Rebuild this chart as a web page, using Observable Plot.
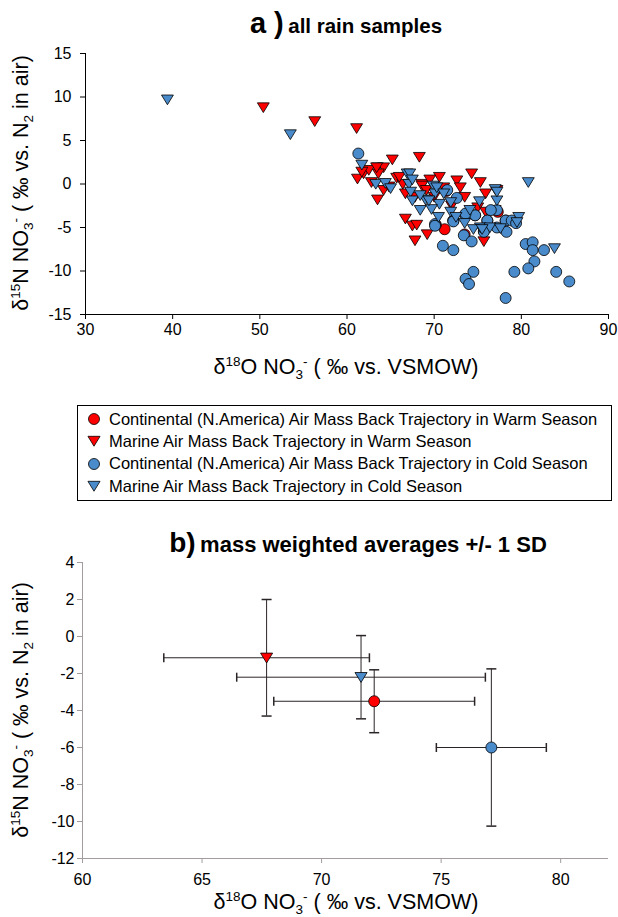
<!DOCTYPE html>
<html><head><meta charset="utf-8">
<script src="https://cdn.jsdelivr.net/npm/d3@7"></script>
<script src="https://cdn.jsdelivr.net/npm/@observablehq/plot@0.6"></script>
<style>
body{margin:0;background:#fff;font-family:"Liberation Sans",Arial,Helvetica,sans-serif;color:#000;}
#wrap{position:relative;width:618px;height:917px;overflow:hidden;background:#fff;}
.abs{position:absolute;white-space:nowrap;line-height:1;}
.lbl{font-size:21.5px;}
.lbl sup,.lbl sub{font-size:13.5px;}
.lbl sup{vertical-align:8px;}
.lbl sub{vertical-align:-5px;}
.title{font-weight:bold;}
#legend{position:absolute;left:77px;top:405px;width:535px;height:96px;border:1px solid #000;box-sizing:border-box;}
.lrow{position:absolute;left:31px;font-size:16.5px;line-height:1;white-space:nowrap;}
</style></head><body><div id="wrap">
<div id="panelA" class="abs" style="left:0;top:0"></div>
<div id="panelB" class="abs" style="left:0;top:520px"></div>
<div class="abs title" style="left:346px;top:9px;transform:translateX(-50%)"><span style="font-size:29px">a )</span> <span style="font-size:20.5px">all rain samples</span></div>
<div class="abs lbl" style="left:346px;top:355px;transform:translateX(-50%)">&delta;<sup>18</sup>O NO<sub>3</sub><sup>-</sup> ( &permil; vs. VSMOW)</div>
<div class="abs lbl" style="left:22px;top:183px;transform:translate(-50%,-50%) rotate(-90deg)">&delta;<sup>15</sup>N NO<sub>3</sub><sup>-</sup> ( &permil; vs. N<sub>2</sub> in air)</div>
<div id="legend"></div>
<div class="abs title" style="left:358px;top:529px;transform:translateX(-50%)"><span style="font-size:28px">b)</span> <span style="font-size:22px">mass weighted averages +/- 1 SD</span></div>
<div class="abs lbl" style="left:346px;top:890px;transform:translateX(-50%)">&delta;<sup>18</sup>O NO<sub>3</sub><sup>-</sup> ( &permil; vs. VSMOW)</div>
<div class="abs lbl" style="left:22px;top:710px;transform:translate(-50%,-50%) rotate(-90deg)">&delta;<sup>15</sup>N NO<sub>3</sub><sup>-</sup> ( &permil; vs. N<sub>2</sub> in air)</div>
</div>
<script>
// ---------- DATA ----------
const seriesNames = [
  "Continental (N.America) Air Mass Back Trajectory in Warm Season",
  "Marine Air Mass Back Trajectory in Warm Season",
  "Continental (N.America) Air Mass Back Trajectory in Cold Season",
  "Marine Air Mass Back Trajectory in Cold Season"
];
// [d18O, d15N]
const contWarm = [[73.6,-3.5],[74.7,-3.6],[71.2,-5.2],[72.2,-4.2],[73.5,-5.8],[76.1,-4.2],[78.2,-4.2],[77.3,-3.2],[75.7,-5.4],[70.2,-4.7],[71.4,-0.8]];
const marWarm = [[50.4,8.8],[56.3,7.2],[61.1,6.4],[68.3,3.1],[65.2,2.8],[61.2,0.6],[61.9,1.2],[62.5,1.6],[63.5,1.9],[64.2,1.9],[63.6,1.2],[65.7,0.7],[63.5,-1.8],[64.2,-0.7],[66.4,0.0],[66.7,-1.1],[68.6,0.0],[68.6,-0.2],[67.8,-1.5],[69.1,-0.7],[70.6,0.8],[71.1,-0.4],[72.6,0.4],[73.0,-0.4],[74.3,1.2],[75.3,0.2],[75.9,-1.1],[77.2,-0.7],[75.0,-2.7],[77.0,-3.0],[75.9,-3.2],[75.7,-6.6],[66.7,-4.0],[67.5,-4.8],[68.0,-4.7],[69.2,-5.8],[67.8,-6.5],[62.8,0.2],[64.8,-0.3],[70.0,-1.5],[72.0,-2.5],[73.5,-1.5],[66.0,0.8],[69.5,0.5],[61.7,1.4],[63.4,1.9]];
const contCold = [[61.3,3.5],[71.5,-0.7],[72.6,-1.6],[77.2,-3.0],[70.1,-4.6],[72.2,-4.2],[73.6,-3.6],[74.7,-3.6],[76.1,-4.2],[77.2,-5.0],[78.2,-4.2],[78.9,-4.2],[73.6,-3.4],[72.2,-4.3],[73.4,-5.9],[74.3,-6.6],[75.7,-5.5],[71.0,-7.1],[72.2,-7.6],[80.5,-6.9],[81.3,-6.7],[81.3,-7.6],[82.6,-7.6],[81.5,-8.9],[80.8,-9.7],[79.2,-10.1],[84.0,-10.1],[85.5,-11.2],[74.5,-10.1],[73.6,-10.9],[74.0,-11.5],[78.2,-13.1],[78.3,-5.5],[79.4,-4.5],[76.5,-3.0],[70.1,-4.8]];
const marCold = [[39.4,9.7],[53.5,5.7],[61.7,2.2],[63.3,0.0],[64.4,0.1],[66.9,1.2],[67.1,0.0],[67.2,1.2],[67.5,0.5],[67.3,-0.9],[67.5,-1.9],[68.4,-3.0],[69.9,-0.2],[69.0,-1.8],[70.1,-1.1],[70.6,-2.3],[71.9,-2.1],[77.0,-0.6],[75.2,-2.0],[77.2,-1.9],[69.7,-2.9],[70.5,-3.8],[71.9,-3.2],[74.1,-3.0],[75.3,-5.0],[76.4,-5.0],[77.6,-5.1],[79.7,-3.8],[80.8,0.2],[83.8,-7.4],[68.4,-1.3],[69.4,-1.9],[70.3,-0.4],[71.1,-1.1],[74.5,-5.2],[75.5,-5.2],[79.5,-4.4],[72.5,-3.8],[73.5,-4.5],[65.0,-0.5],[77.2,-0.9]];

// panel b: mass weighted averages and 1 SD
const avgNames = ["contWarm","marWarm","contCold","marCold"];
const avgX  = [72.2, 67.7, 77.1, 71.65];
const avgY  = [-3.5, -1.15, -6.0, -2.2];
const sdX   = [4.2, 4.3, 2.3, 5.2];
const sdY   = [1.7, 3.15, 4.25, 2.25];

const xTicksA = [30,40,50,60,70,80,90];
const yTicksA = [-15,-10,-5,0,5,10,15];
const xTicksB = [60,65,70,75,80];
const yTicksB = [-12,-10,-8,-6,-4,-2,0,2,4];

// ---------- STYLE ----------
const RED = "#ff0000", BLUE = "#4a8bcb";
const styleOf = {contWarm:{fill:RED,sym:"circle"},marWarm:{fill:RED,sym:"tri"},contCold:{fill:BLUE,sym:"circle"},marCold:{fill:BLUE,sym:"tri"}};
const triDown = {draw(ctx,size){const r=Math.sqrt(size/Math.PI);ctx.moveTo(-1.1*r,-0.85*r);ctx.lineTo(1.1*r,-0.85*r);ctx.lineTo(0,0.95*r);ctx.closePath();}};
const capH = {draw(ctx,size){ctx.moveTo(-5,0);ctx.lineTo(5,0);}};
const capV = {draw(ctx,size){ctx.moveTo(0,-4.5);ctx.lineTo(0,4.5);}};
const sym = s => s === "tri" ? triDown : "circle";
const fmt = d => String(d);
const font = '"Liberation Sans", Arial, Helvetica, sans-serif';

function dots(data, key, r){
  const st = styleOf[key];
  return Plot.dot(data, {x: d=>d[0], y: d=>d[1], r, symbol: sym(st.sym), fill: st.fill, stroke: "#000", strokeWidth: 0.8});
}

const chartA = Plot.plot({
  width: 618, height: 385,
  marginTop: 53, marginBottom: 71, marginLeft: 85, marginRight: 10,
  x: {domain: [30,90]}, y: {domain: [-15,15]},
  style: {fontFamily: font, fontSize: "16px", color: "#000", background: "transparent", overflow: "visible"},
  marks: [
    Plot.axisX({ticks: xTicksA, tickFormat: fmt, tickSize: 5, tickPadding: 4, label: null, fontSize: 16}),
    Plot.axisY({ticks: yTicksA, tickFormat: fmt, tickSize: 5, tickPadding: 9, label: null, fontSize: 16}),
    Plot.ruleX([30], {stroke: "#000"}),
    Plot.ruleY([-15], {stroke: "#000"}),
    dots(contWarm, "contWarm", 5.5),
    dots(marWarm, "marWarm", 5.4),
    dots(contCold, "contCold", 5.5),
    dots(marCold, "marCold", 5.4)
  ]
});
document.getElementById("panelA").appendChild(chartA);

const avg = avgNames.map((k,i)=>({k, x: avgX[i], y: avgY[i], sx: sdX[i], sy: sdY[i]}));
const EB = "#2a2426";
const chartB = Plot.plot({
  width: 618, height: 397,
  marginTop: 42, marginBottom: 59, marginLeft: 82, marginRight: 10,
  x: {domain: [60,82]}, y: {domain: [-12,4]},
  style: {fontFamily: font, fontSize: "16px", color: "#000", background: "transparent", overflow: "visible"},
  marks: [
    Plot.axisX({ticks: xTicksB, tickFormat: fmt, tickSize: 5, tickPadding: 10, label: null, fontSize: 16, stroke: "#a39c9c"}),
    Plot.axisY({ticks: yTicksB, tickFormat: fmt, tickSize: 5, tickPadding: 3, label: null, fontSize: 16, stroke: "#a39c9c"}),
    Plot.ruleX([60], {stroke: "#a39c9c"}),
    Plot.ruleY([-12], {stroke: "#a39c9c"}),
    Plot.ruleY(avg, {y: "y", x1: d=>d.x-d.sx, x2: d=>d.x+d.sx, stroke: EB, strokeWidth: 1}),
    Plot.ruleX(avg, {x: "x", y1: d=>d.y-d.sy, y2: d=>d.y+d.sy, stroke: EB, strokeWidth: 1}),
    Plot.dot(avg, {x: d=>d.x-d.sx, y: "y", symbol: capV, stroke: EB, fill: "none"}),
    Plot.dot(avg, {x: d=>d.x+d.sx, y: "y", symbol: capV, stroke: EB, fill: "none"}),
    Plot.dot(avg, {x: "x", y: d=>d.y-d.sy, symbol: capH, stroke: EB, fill: "none"}),
    Plot.dot(avg, {x: "x", y: d=>d.y+d.sy, symbol: capH, stroke: EB, fill: "none"}),
    Plot.dot(avg, {x: "x", y: "y", r: 5.5, symbol: d=>styleOf[d.k].sym === "tri" ? triDown : "circle", fill: d=>styleOf[d.k].fill, stroke: "#000", strokeWidth: 0.8})
  ]
});
document.getElementById("panelB").appendChild(chartB);

// legend (symbols drawn with the same symbol generator)
const leg = document.getElementById("legend");
const legKeys = ["contWarm","marWarm","contCold","marCold"];
legKeys.forEach((k,i)=>{
  const st = styleOf[k];
  const cy = 13 + i*22.4;
  const svg = d3.create("svg").attr("width",20).attr("height",20)
    .style("position","absolute").style("left","6px").style("top",(cy-10)+"px");
  svg.append("path").attr("transform","translate(10,10)")
    .attr("d", d3.symbol(st.sym==="tri"?triDown:d3.symbolCircle, Math.PI*5.5*5.5)())
    .attr("fill", st.fill).attr("stroke","#000").attr("stroke-width",0.8);
  leg.appendChild(svg.node());
  const t = document.createElement("div");
  t.className = "lrow"; t.style.top = (cy-8.5)+"px"; t.textContent = seriesNames[i];
  leg.appendChild(t);
});
</script>
</body></html>
